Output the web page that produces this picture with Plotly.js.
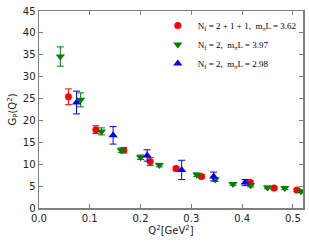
<!DOCTYPE html>
<html>
<head>
<meta charset="utf-8">
<script src="https://cdn.plot.ly/plotly-3.0.1.min.js"></script>
<style>html,body{margin:0;padding:0;background:#fff;}</style>
</head>
<body>
<div id="chart" style="width:309px;height:245px;"></div>
<script>
// Nf = 2+1+1, mπL = 3.62
var redQ2 = [0.058, 0.112, 0.167, 0.219, 0.270, 0.320, 0.416, 0.463, 0.508];
var redG = [25.4, 17.9, 13.2, 10.6, 9.0, 7.2, 5.85, 4.55, 4.1];
var redErr = [1.8, 0.9, 0.6, 0.9, 0.5, 0.4, 0.4, 0.3, 0.3];
// Nf = 2, mπL = 3.97
var greenQ2 = [0.042, 0.082, 0.123, 0.162, 0.200, 0.237, 0.311, 0.347, 0.382, 0.417, 0.450, 0.484, 0.516];
var greenG = [34.6, 24.7, 17.5, 13.2, 11.6, 9.8, 7.6, 6.5, 5.5, 5.2, 4.7, 4.55, 3.8];
var greenErr = [2.2, 1.6, 0.8, 0.5, 0.5, 0.4, 0.4, 0.4, 0.3, 0.4, 0.3, 0.3, 0.3];
// Nf = 2, mπL = 2.98
var blueQ2 = [0.074, 0.146, 0.213, 0.281, 0.344, 0.406];
var blueG = [24.1, 16.6, 12.0, 8.7, 7.2, 5.8];
var blueErr = [2.6, 2.0, 1.3, 2.2, 1.0, 0.7];

var names = [
  "N<sub>f</sub> = 2 + 1 + 1,  m<sub>π</sub>L = 3.62",
  "N<sub>f</sub> = 2,  m<sub>π</sub>L = 3.97",
  "N<sub>f</sub> = 2,  m<sub>π</sub>L = 2.98"
];
var xTicks = [0.0, 0.1, 0.2, 0.3, 0.4, 0.5];
var xTickText = ["0.0", "0.1", "0.2", "0.3", "0.4", "0.5"];
var yTicks = [0, 5, 10, 15, 20, 25, 30, 35, 40, 45];

function tr(x, y, e, name, color, symbol, size) {
  return {
    x: x, y: y, name: name, type: 'scatter', mode: 'markers',
    marker: {color: color, symbol: symbol, size: size, line: {width: 0}},
    error_y: {type: 'data', array: e, visible: true, color: color, thickness: 1, width: 3.5}
  };
}
var data = [
  tr(redQ2, redG, redErr, names[0], '#ff0000', 'circle', 7),
  tr(greenQ2, greenG, greenErr, names[1], '#008000', 'triangle-down', 8),
  tr(blueQ2, blueG, blueErr, names[2], '#0000ff', 'triangle-up', 8)
];
var axisCommon = {
  showgrid: false, zeroline: false, showline: true, mirror: 'ticks',
  linecolor: '#808080', linewidth: 1.5, ticks: 'inside', ticklen: 4,
  tickcolor: '#808080', tickwidth: 1,
  tickfont: {family: 'DejaVu Sans', size: 10, color: '#222'}
};
var layout = {
  width: 309, height: 245,
  margin: {l: 39, r: 6, t: 11, b: 37},
  paper_bgcolor: '#fff', plot_bgcolor: '#fff',
  showlegend: true,
  legend: {
    x: 0.45, y: 1.0, xanchor: 'left', yanchor: 'top',
    bgcolor: 'rgba(255,255,255,0)', borderwidth: 0,
    font: {family: 'Liberation Serif', size: 9, color: '#000'},
    tracegroupgap: 0, itemwidth: 30
  },
  xaxis: Object.assign({}, axisCommon, {
    range: [0, 0.52], tickvals: xTicks, ticktext: xTickText,
    title: {text: 'Q<sup>2</sup>[GeV<sup>2</sup>]', font: {family: 'DejaVu Sans', size: 10, color: '#222'}, standoff: 4}
  }),
  yaxis: Object.assign({}, axisCommon, {
    range: [0, 45], tickvals: yTicks,
    title: {text: 'G<sub>P</sub>(Q<sup>2</sup>)', font: {family: 'DejaVu Sans', size: 10, color: '#222'}, standoff: 4}
  })
};
Plotly.newPlot('chart', data, layout, {displayModeBar: false, staticPlot: true});
</script>
</body>
</html>
